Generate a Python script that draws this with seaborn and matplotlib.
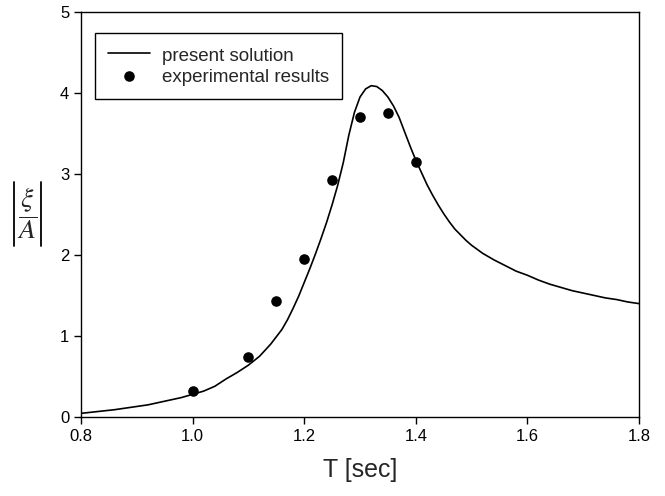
import matplotlib
matplotlib.use("Agg")
import matplotlib.pyplot as plt
from matplotlib.lines import Line2D
import seaborn as sns
import pandas as pd

# Theoretical response curve (present solution)
period_curve = [0.80, 0.82, 0.84, 0.86, 0.88, 0.90, 0.92, 0.94, 0.96, 0.98,
                1.00, 1.02, 1.04, 1.06, 1.08, 1.10, 1.12, 1.14, 1.16, 1.17,
                1.18, 1.19, 1.20, 1.21, 1.22, 1.23, 1.24, 1.25, 1.26, 1.27,
                1.28, 1.29, 1.30, 1.31, 1.32, 1.33, 1.34, 1.35, 1.36, 1.37,
                1.38, 1.39, 1.40, 1.41, 1.42, 1.43, 1.44, 1.45, 1.46, 1.47,
                1.48, 1.49, 1.50, 1.52, 1.54, 1.56, 1.58, 1.60, 1.62, 1.64,
                1.66, 1.68, 1.70, 1.72, 1.74, 1.76, 1.78, 1.80]
amp_curve = [0.045, 0.06, 0.075, 0.09, 0.11, 0.13, 0.15, 0.18, 0.21, 0.24,
             0.28, 0.32, 0.38, 0.47, 0.55, 0.64, 0.75, 0.90, 1.08, 1.20,
             1.34, 1.49, 1.66, 1.83, 2.01, 2.20, 2.40, 2.62, 2.86, 3.14,
             3.48, 3.76, 3.95, 4.05, 4.09, 4.08, 4.03, 3.95, 3.84, 3.70,
             3.52, 3.34, 3.17, 3.02, 2.87, 2.74, 2.62, 2.51, 2.41, 2.32,
             2.25, 2.18, 2.12, 2.02, 1.94, 1.87, 1.80, 1.75, 1.69, 1.64,
             1.60, 1.56, 1.53, 1.50, 1.47, 1.45, 1.42, 1.40]

# Measured amplitudes
period_exp = [1.00, 1.10, 1.15, 1.20, 1.25, 1.30, 1.35, 1.40]
amp_exp = [0.32, 0.74, 1.43, 1.95, 2.93, 3.70, 3.75, 3.15]

x_ticks = [0.8, 1.0, 1.2, 1.4, 1.6, 1.8]
y_ticks = [0, 1, 2, 3, 4, 5]

curve = pd.DataFrame({"T": period_curve, "amp": amp_curve})
exp = pd.DataFrame({"T": period_exp, "amp": amp_exp})

sns.set_style("ticks")
plt.rcParams["font.family"] = ["Liberation Sans", "DejaVu Sans"]
plt.rcParams["mathtext.fontset"] = "stix"

W, H = 665, 496
fig = plt.figure(figsize=(W / 100, H / 100), dpi=100)
ax = fig.add_axes([81 / W, 1 - 417 / H, 558 / W, 405 / H])

sns.lineplot(data=curve, x="T", y="amp", ax=ax, color="black", linewidth=1.2,
             label="present solution", sort=False)
sns.scatterplot(data=exp, x="T", y="amp", ax=ax, color="black", s=58,
                edgecolor="black", linewidth=0, label="experimental results",
                zorder=3)

ax.set_xlim(0.8, 1.8)
ax.set_ylim(0, 5)
ax.set_xticks(x_ticks)
ax.set_xticklabels([f"{v:.1f}" for v in x_ticks])
ax.set_yticks(y_ticks)
ax.set_yticklabels([str(v) for v in y_ticks])
ax.tick_params(axis="both", direction="out", length=5, width=1, labelsize=12,
               colors="black", top=False, right=False)
for side in ["left", "right", "top", "bottom"]:
    ax.spines[side].set_visible(True)
    ax.spines[side].set_color("black")
    ax.spines[side].set_linewidth(1.0)

ax.set_xlabel("T [sec]", fontsize=18, labelpad=10)
ax.set_ylabel("")

# y-axis label: |xi / A| with thin absolute-value bars
fig.text(27.5 / W, 1 - 213 / H, r"$\dfrac{\xi}{A}$", fontsize=20,
         ha="center", va="center")
for bx in (14, 41):
    fig.add_artist(Line2D([bx / W, bx / W], [1 - 246 / H, 1 - 182 / H],
                          transform=fig.transFigure, color="black",
                          linewidth=1.3))

leg = ax.legend(loc="upper left", bbox_to_anchor=(0.025, 0.948), fontsize=13.5,
                frameon=True, fancybox=False, handlelength=2.25,
                handleheight=1.0, borderpad=0.68, labelspacing=0.14,
                handletextpad=0.64, borderaxespad=0)
leg.get_frame().set_edgecolor("black")
leg.get_frame().set_linewidth(1.0)
leg.get_frame().set_alpha(1)

fig.savefig("out.png", dpi=100)
